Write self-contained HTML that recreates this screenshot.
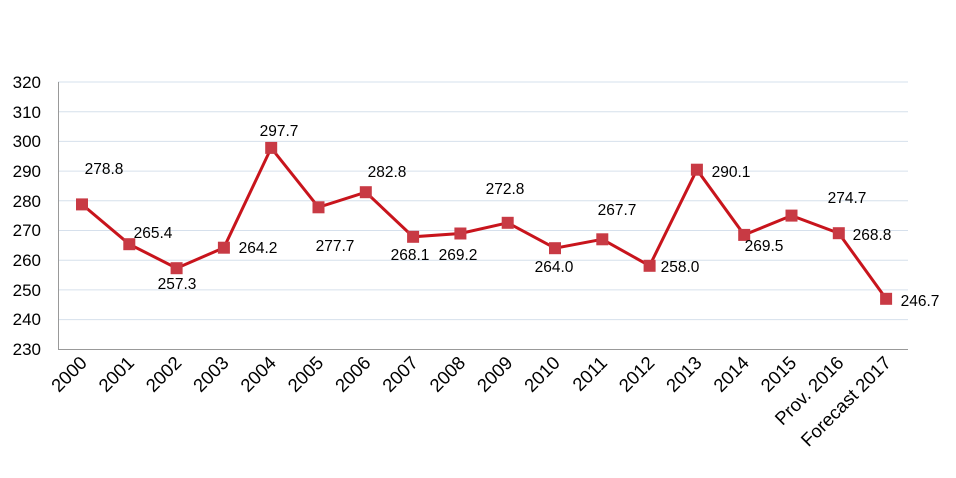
<!DOCTYPE html>
<html><head><style>body{margin:0;background:#fff}svg{display:block}</style></head><body>
<svg width="956" height="478" xmlns="http://www.w3.org/2000/svg" font-family="Liberation Sans, Arial, sans-serif">
<g stroke="#d6e0ec" stroke-width="1">
<line x1="58" x2="908" y1="82" y2="82"/><line x1="58" x2="908" y1="111.7" y2="111.7"/><line x1="58" x2="908" y1="141.4" y2="141.4"/><line x1="58" x2="908" y1="171.1" y2="171.1"/><line x1="58" x2="908" y1="200.8" y2="200.8"/><line x1="58" x2="908" y1="230.5" y2="230.5"/><line x1="58" x2="908" y1="260.2" y2="260.2"/><line x1="58" x2="908" y1="289.9" y2="289.9"/><line x1="58" x2="908" y1="319.6" y2="319.6"/>
</g>
<line x1="58.5" y1="82" x2="58.5" y2="349.5" stroke="#999"/>
<line x1="58" y1="349.5" x2="908" y2="349.5" stroke="#999"/>
<g font-size="17" fill="#000" text-anchor="end">
<text x="41" y="88">320</text><text x="41" y="118">310</text><text x="41" y="147">300</text><text x="41" y="177">290</text><text x="41" y="207">280</text><text x="41" y="236">270</text><text x="41" y="266">260</text><text x="41" y="296">250</text><text x="41" y="325">240</text><text x="41" y="355">230</text>
</g>
<polyline fill="none" stroke="#c8141c" stroke-width="3" points="82,204.4 129.3,244.2 176.6,268.2 223.9,247.7 271.2,147.9 318.5,207.3 365.8,192.2 413.1,236.8 460.4,233.5 507.7,222.8 555,248.2 602.3,239.3 649.6,265.8 696.9,169.7 744.2,234.9 791.5,215.6 838.8,233.2 886.1,298.8"/>
<g fill="#c83a44">
<rect x="76" y="198.4" width="12" height="12"/><rect x="123.3" y="238.2" width="12" height="12"/><rect x="170.6" y="262.2" width="12" height="12"/><rect x="217.9" y="241.7" width="12" height="12"/><rect x="265.2" y="141.9" width="12" height="12"/><rect x="312.5" y="201.3" width="12" height="12"/><rect x="359.8" y="186.2" width="12" height="12"/><rect x="407.1" y="230.8" width="12" height="12"/><rect x="454.4" y="227.5" width="12" height="12"/><rect x="501.7" y="216.8" width="12" height="12"/><rect x="549" y="242.2" width="12" height="12"/><rect x="596.3" y="233.3" width="12" height="12"/><rect x="643.6" y="259.8" width="12" height="12"/><rect x="690.9" y="163.7" width="12" height="12"/><rect x="738.2" y="228.9" width="12" height="12"/><rect x="785.5" y="209.6" width="12" height="12"/><rect x="832.8" y="227.2" width="12" height="12"/><rect x="880.1" y="292.8" width="12" height="12"/>
</g>
<g font-size="15.5" fill="#000" text-anchor="middle">
<text x="104" y="174">278.8</text><text x="153" y="238">265.4</text><text x="177" y="289">257.3</text><text x="258" y="253">264.2</text><text x="279" y="136">297.7</text><text x="335" y="251">277.7</text><text x="387" y="177">282.8</text><text x="410" y="260">268.1</text><text x="458" y="260">269.2</text><text x="505" y="194">272.8</text><text x="554" y="272">264.0</text><text x="617" y="215">267.7</text><text x="680" y="272">258.0</text><text x="731" y="177">290.1</text><text x="764" y="251">269.5</text><text x="847" y="203">274.7</text><text x="872" y="240">268.8</text><text x="920" y="306">246.7</text>
</g>
<g font-size="18.5" fill="#000" text-anchor="end">
<text transform="translate(88,364) rotate(-45)">2000</text>
<text transform="translate(135.3,364) rotate(-45)">2001</text>
<text transform="translate(182.6,364) rotate(-45)">2002</text>
<text transform="translate(229.9,364) rotate(-45)">2003</text>
<text transform="translate(277.2,364) rotate(-45)">2004</text>
<text transform="translate(324.5,364) rotate(-45)">2005</text>
<text transform="translate(371.8,364) rotate(-45)">2006</text>
<text transform="translate(419.1,364) rotate(-45)">2007</text>
<text transform="translate(466.4,364) rotate(-45)">2008</text>
<text transform="translate(513.7,364) rotate(-45)">2009</text>
<text transform="translate(561,364) rotate(-45)">2010</text>
<text transform="translate(608.3,364) rotate(-45)">2011</text>
<text transform="translate(655.6,364) rotate(-45)">2012</text>
<text transform="translate(702.9,364) rotate(-45)">2013</text>
<text transform="translate(750.2,364) rotate(-45)">2014</text>
<text transform="translate(797.5,364) rotate(-45)">2015</text>
<text transform="translate(844.8,364) rotate(-45)">Prov. 2016</text>
<text transform="translate(892.1,364) rotate(-45)">Forecast 2017</text>
</g>
</svg>
</body></html>
